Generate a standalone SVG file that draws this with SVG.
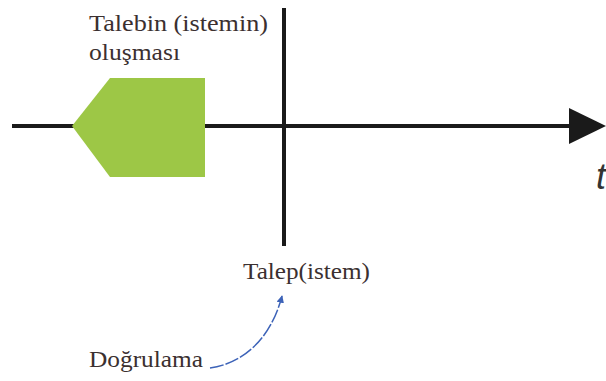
<svg xmlns="http://www.w3.org/2000/svg" width="606" height="381" viewBox="0 0 606 381">
<style>
.lbl{font-family:"Liberation Serif","DejaVu Serif",serif;font-size:24px;fill:#3b3030}
.ax{stroke:#1a1a1a;stroke-width:4;fill:none}
</style>
<defs>
<marker id="bh" viewBox="0 0 10 10" refX="9" refY="5" markerWidth="5" markerHeight="5" orient="auto"><path d="M0,0 L10,5 L0,10 z" fill="#3d63b8"/></marker>
</defs>
<rect width="606" height="381" fill="#fff"/>
<g id="connectors">
<line class="ax" x1="12" y1="126" x2="572" y2="126"/>
<polygon points="569,108 606,126 569,144" fill="#1a1a1a"/>
<line class="ax" x1="284" y1="8" x2="284" y2="246"/>
<path d="M210,368 C240,364 270,342 282,296" fill="none" stroke="#3d63b8" stroke-width="1.5" stroke-dasharray="14,2" marker-end="url(#bh)"/>
</g>
<g id="request-formation">
<polygon points="72,126 110,78 205,78 205,177 110,177" fill="#9dc746"/>
<text class="lbl" x="89" y="31" textLength="179" lengthAdjust="spacingAndGlyphs">Talebin (istemin)</text>
<text class="lbl" x="89" y="60" textLength="91" lengthAdjust="spacingAndGlyphs">oluşması</text>
</g>
<g id="request">
<text class="lbl" x="243" y="279" textLength="127" lengthAdjust="spacingAndGlyphs">Talep(istem)</text>
</g>
<g id="validation">
<text class="lbl" x="89" y="367" textLength="114" lengthAdjust="spacingAndGlyphs">Doğrulama</text>
</g>
<g id="time">
<text x="596" y="189" style="font-family:'Liberation Sans',sans-serif;font-style:italic;font-size:36px;fill:#333">t</text>
</g>
</svg>
